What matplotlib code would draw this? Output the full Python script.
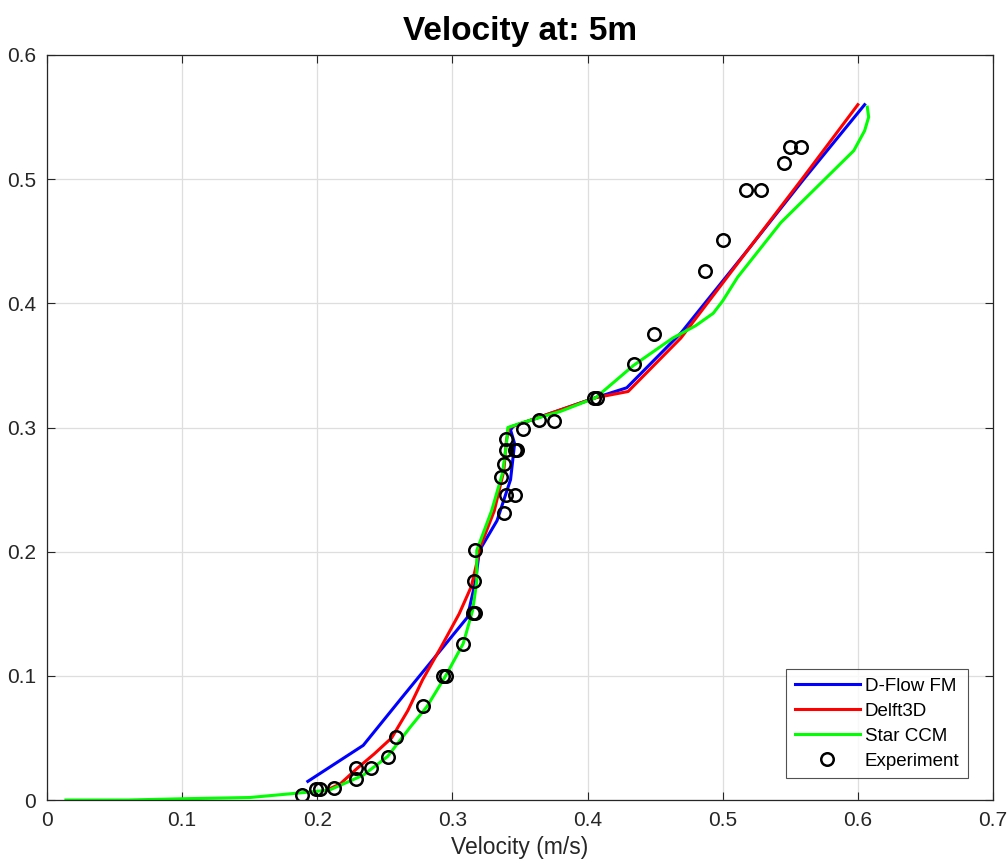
import numpy as np
import matplotlib
matplotlib.use("Agg")
import matplotlib.pyplot as plt

plt.rcParams["font.family"] = ["Liberation Sans", "DejaVu Sans"]

# D-Flow FM profile (velocity m/s, height m)
dflow_u = [0.193, 0.234, 0.263, 0.290, 0.311, 0.317, 0.320, 0.333, 0.343, 0.346,
           0.343, 0.345, 0.406, 0.429, 0.469, 0.520, 0.560, 0.605]
dflow_z = [0.015, 0.044, 0.083, 0.119, 0.147, 0.176, 0.201, 0.225, 0.258, 0.287,
           0.298, 0.301, 0.324, 0.332, 0.376, 0.445, 0.500, 0.560]

# Delft3D profile
delft_u = [0.207, 0.217, 0.229, 0.242, 0.255, 0.267, 0.278, 0.292, 0.305, 0.314, 0.321, 0.331,
           0.338, 0.340, 0.342, 0.406, 0.430, 0.469, 0.520, 0.560, 0.600]
delft_z = [0.008, 0.013, 0.025, 0.037, 0.050, 0.072, 0.097, 0.124, 0.150, 0.172, 0.205, 0.233,
           0.265, 0.290, 0.300, 0.324, 0.329, 0.372, 0.445, 0.502, 0.560]

# Star CCM profile
star_u = [0.014, 0.060, 0.100, 0.150, 0.190, 0.209, 0.234, 0.252, 0.269, 0.281, 0.295, 0.308,
          0.315, 0.318, 0.318, 0.329, 0.337, 0.340, 0.341, 0.352, 0.380, 0.406, 0.434, 0.463,
          0.480, 0.493, 0.500, 0.511, 0.543, 0.570, 0.597, 0.605, 0.608, 0.607]
star_z = [0.000, 0.000, 0.001, 0.002, 0.006, 0.008, 0.020, 0.035, 0.059, 0.075, 0.100, 0.126,
          0.153, 0.176, 0.201, 0.233, 0.263, 0.287, 0.300, 0.304, 0.313, 0.324, 0.350, 0.372,
          0.382, 0.392, 0.402, 0.421, 0.465, 0.494, 0.523, 0.539, 0.550, 0.558]

# Experiment points
exp_u = [0.189, 0.199, 0.202, 0.212, 0.229, 0.229, 0.240, 0.252, 0.258, 0.278, 0.293, 0.295,
         0.308, 0.315, 0.317, 0.316, 0.317, 0.338, 0.340, 0.346, 0.336, 0.338, 0.340, 0.346,
         0.348, 0.340, 0.352, 0.364, 0.375, 0.405, 0.407, 0.434, 0.449, 0.487, 0.500, 0.517,
         0.528, 0.545, 0.550, 0.558]
exp_z = [0.004, 0.009, 0.009, 0.010, 0.017, 0.026, 0.026, 0.035, 0.051, 0.076, 0.100, 0.100,
         0.126, 0.151, 0.151, 0.176, 0.201, 0.231, 0.246, 0.246, 0.260, 0.271, 0.282, 0.282,
         0.282, 0.291, 0.299, 0.306, 0.305, 0.324, 0.324, 0.351, 0.375, 0.426, 0.451, 0.491,
         0.491, 0.513, 0.526, 0.526]

fig = plt.figure(figsize=(10.07, 8.61), dpi=100)
ax = fig.add_axes([47 / 1007, 1 - 800 / 861, 946 / 1007, 745 / 861])

ax.plot(dflow_u, dflow_z, color="#0000ff", lw=2.2, label="D-Flow FM")
ax.plot(delft_u, delft_z, color="#ff0000", lw=2.2, label="Delft3D")
ax.plot(star_u, star_z, color="#00ff00", lw=2.2, label="Star CCM")
ax.plot(exp_u, exp_z, "o", mfc="none", mec="black", ms=9, mew=1.8, label="Experiment")

ax.set_xlim(0, 0.7)
ax.set_ylim(0, 0.6)
ax.set_xticks(np.arange(0, 0.71, 0.1))
ax.set_yticks(np.arange(0, 0.61, 0.1))
ax.set_xticklabels(["0", "0.1", "0.2", "0.3", "0.4", "0.5", "0.6", "0.7"])
ax.set_yticklabels(["0", "0.1", "0.2", "0.3", "0.4", "0.5", "0.6"])

ax.grid(True, color="#dedede", lw=0.9)
ax.set_axisbelow(True)
for s in ax.spines.values():
    s.set_color("#262626")
    s.set_linewidth(0.9)
ax.tick_params(direction="in", top=True, right=True, length=6, width=0.8,
               colors="#262626", labelsize=15, pad=8)

ax.set_xlabel("Velocity (m/s)", fontsize=16.5, color="#262626", labelpad=4.5)
ax.set_title("Velocity at: 5m", fontsize=24, fontweight="bold", pad=11)

leg = ax.legend(loc="lower right", bbox_to_anchor=(0.9736, 0.0295), borderaxespad=0,
                fontsize=13.5, frameon=True, fancybox=False, edgecolor="#262626",
                handlelength=3.5, handletextpad=0.25, borderpad=0.45, labelspacing=0.42)
leg.get_frame().set_linewidth(0.8)

fig.savefig("out.png", dpi=100)
